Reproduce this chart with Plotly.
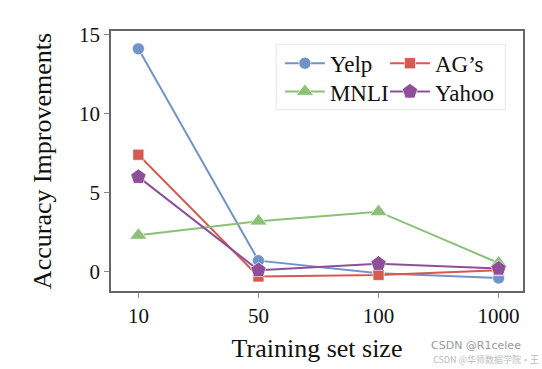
import plotly.graph_objects as go

categories = ["10", "50", "100", "1000"]
yelp = [14.1, 0.7, -0.1, -0.4]
ags = [7.4, -0.3, -0.2, 0.1]
mnli = [2.3, 3.2, 3.8, 0.55]
yahoo = [6.0, 0.1, 0.5, 0.2]
y_ticks = [0, 5, 10, 15]

series = [
    ("Yelp", yelp, "#7094c8", "circle", 12, "legend"),
    ("AG’s", ags, "#d35b4f", "square", 11, "legend2"),
    ("MNLI", mnli, "#8bc077", "triangle-up", 15, "legend3"),
    ("Yahoo", yahoo, "#8e4f98", "pentagon", 16, "legend4"),
]

fig = go.Figure()
for name, vals, color, sym, size, lg in series:
    fig.add_trace(go.Scatter(
        x=list(range(len(categories))), y=vals, name=name, mode="lines+markers",
        line=dict(color=color, width=2),
        marker=dict(symbol=sym, size=size, color=color, line=dict(color="rgba(255,255,255,0.6)", width=1)),
        legend=lg,
    ))

font = "Liberation Serif, Times New Roman, serif"
leg_font = dict(size=23, family=font)
def leg(x, y):
    return dict(x=x, y=y, xanchor="left", yanchor="middle", bgcolor="rgba(0,0,0,0)",
                font=leg_font, itemwidth=40)

fig.update_layout(
    width=542, height=369,
    margin=dict(l=111, r=19, t=31, b=78),
    paper_bgcolor="white", plot_bgcolor="white",
    font=dict(family=font, color="#111", size=21),
    legend=leg(0.41, 0.876),
    legend2=leg(0.665, 0.876),
    legend3=leg(0.41, 0.767),
    legend4=leg(0.665, 0.767),
    xaxis=dict(range=[-0.228, 3.203], tickmode="array", tickvals=list(range(len(categories))),
               ticktext=categories, showgrid=False, zeroline=False,
               showline=True, mirror=True, linecolor="#666", linewidth=1.5,
               ticks="outside", ticklen=5, tickcolor="#888",
               title=dict(text="Training set size", font=dict(size=26, family=font), standoff=12)),
    yaxis=dict(range=[-1.22, 15.23], tickvals=y_ticks, showgrid=False, zeroline=False,
               showline=True, mirror=True, linecolor="#666", linewidth=1.5,
               ticks="outside", ticklen=5, tickcolor="#888",
               title=dict(text="Accuracy Improvements", font=dict(size=26, family=font), standoff=20)),
    showlegend=True,
)
fig.add_shape(type="rect", xref="paper", yref="paper",
              x0=0.401, x1=0.957, y0=0.697, y1=0.949,
              line=dict(color="#e6e6e6", width=1), fillcolor="rgba(255,255,255,0.8)", layer="below")
fig.add_annotation(text="CSDN @R1celee", xref="paper", yref="paper", x=1.0, y=-0.243,
                   xanchor="right", yanchor="bottom", showarrow=False,
                   font=dict(size=11, color="#999", family="DejaVu Sans"))
fig.add_annotation(text="CSDN @华师数据学院·王", xref="paper", yref="paper", x=1.044, y=-0.298,
                   xanchor="right", yanchor="bottom", showarrow=False,
                   font=dict(size=9, color="#bbb", family="Noto Sans CJK SC"))
fig.write_html("out.html", config={"displayModeBar": False},
               post_script="document.body.style.margin='0';document.body.style.overflow='hidden';")
